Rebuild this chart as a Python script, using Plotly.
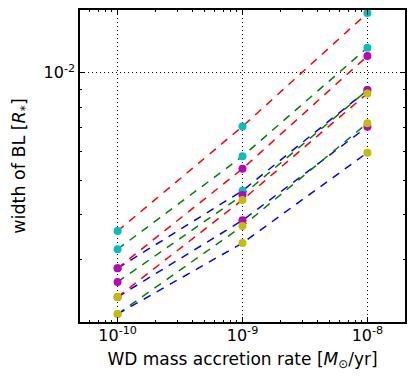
import plotly.graph_objects as go

# accretion rates (Msun/yr)
mdot = [1e-10, 1e-9, 1e-8]

# BL widths (R_*) per marker colour group and line colour
cyan_r = [3.60e-3, 7.07e-3, 1.47e-2]
cyan_g = [3.20e-3, 5.83e-3, 1.175e-2]
cyan_b = [2.83e-3, 4.67e-3, 8.94e-3]
mag_r = [2.83e-3, 5.38e-3, 1.114e-2]
mag_g = [2.59e-3, 4.54e-3, 8.94e-3]
mag_b = [2.35e-3, 3.855e-3, 7.06e-3]
yel_r = [2.35e-3, 4.40e-3, 8.75e-3]
yel_g = [2.105e-3, 3.715e-3, 7.22e-3]
yel_b = [2.105e-3, 3.33e-3, 5.97e-3]

series = [
    (cyan_r, "#ff0000", "#00bfbf"),
    (cyan_g, "#008000", "#00bfbf"),
    (cyan_b, "#0000ff", "#00bfbf"),
    (mag_r, "#ff0000", "#bf00bf"),
    (mag_g, "#008000", "#bf00bf"),
    (mag_b, "#0000ff", "#bf00bf"),
    (yel_r, "#ff0000", "#bfbf00"),
    (yel_g, "#008000", "#bfbf00"),
    (yel_b, "#0000ff", "#bfbf00"),
]

xticks = [1e-10, 1e-9, 1e-8]
xticktext = ["10<sup>-10</sup>", "10<sup>-9</sup>", "10<sup>-8</sup>"]
yticks = [1e-2]
yticktext = ["10<sup>-2</sup>"]

fig = go.Figure()

# dashed lines first
for ys, lc, mc in series:
    fig.add_trace(go.Scatter(x=mdot, y=ys, mode="lines",
        line=dict(color=lc, width=1.5, dash="8px,7px"),
        showlegend=False, hoverinfo="skip"))

# markers on top
for ys, lc, mc in series:
    fig.add_trace(go.Scatter(x=mdot, y=ys, mode="markers",
        marker=dict(size=8, color=mc, line=dict(width=0)),
        showlegend=False))

x_minor = [m * 10.0**e for e in (-11, -10, -9, -8) for m in range(2, 10)]
y_minor = [m * 10.0**e for e in (-3, -2) for m in range(2, 10)]

axis_common = dict(
    type="log", showline=True, linecolor="black", linewidth=1.5,
    mirror="allticks", ticks="inside", ticklen=5, tickwidth=1, tickcolor="black",
    showgrid=True, gridcolor="black", griddash="1px,3px", gridwidth=1,
    zeroline=False, tickfont=dict(size=16, color="black"), automargin=False,
)

# page body has an 8px margin, so the figure is shrunk by that amount
fig.update_layout(
    width=407, height=375,
    margin=dict(l=71.5, r=10, t=2, b=61),
    plot_bgcolor="white", paper_bgcolor="white",
    font=dict(family="DejaVu Sans", color="black"),
    xaxis=dict(axis_common, range=[-10.301, -7.699],
        tickmode="array", tickvals=xticks, ticktext=xticktext,
        ticklabelstandoff=-2,
        minor=dict(tickmode="array", tickvals=x_minor, ticks="inside",
                   ticklen=2.5, tickcolor="black", showgrid=False),
        title=dict(text="WD mass accretion rate [<i>M</i><sub>⊙</sub>/yr]",
                   font=dict(size=17), standoff=9)),
    yaxis=dict(axis_common, range=[-2.699, -1.824],
        tickmode="array", tickvals=yticks, ticktext=yticktext,
        minor=dict(tickmode="array", tickvals=y_minor, ticks="inside",
                   ticklen=2.5, tickcolor="black", showgrid=False),
        title=dict(text="width of BL [<i>R</i><sub>*</sub>]",
                   font=dict(size=17.5), standoff=13)),
)

fig.write_html("out.html")
